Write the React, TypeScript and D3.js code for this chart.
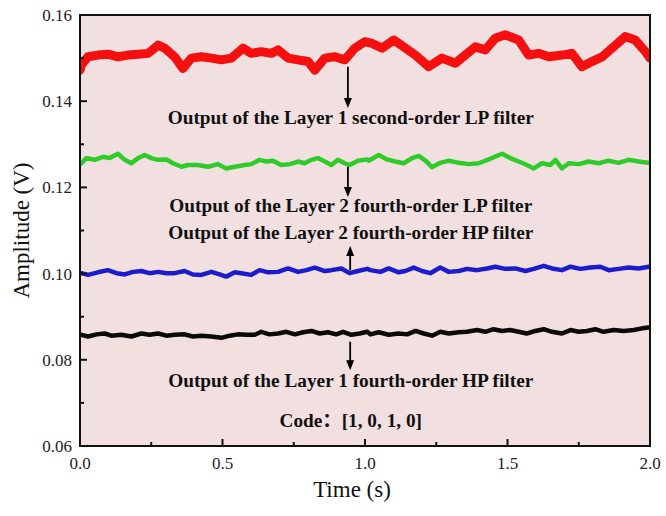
import React from "react";
import * as d3 from "d3";

const xTicks = [0, 0.5, 1.0, 1.5, 2.0];
const xMinorTicks = [0.25, 0.75, 1.25, 1.75];
const yTicks = [0.06, 0.08, 0.1, 0.12, 0.14, 0.16];
const yMinorTicks = [0.07, 0.09, 0.11, 0.13, 0.15];

const redPoints: [number, number][] = [
  [0, 0.1472], [0.005, 0.1484], [0.028, 0.1503], [0.063, 0.1507], [0.098, 0.1509], [0.133, 0.1503],
  [0.168, 0.1507], [0.204, 0.1509], [0.239, 0.1511], [0.274, 0.153], [0.297, 0.1523], [0.332, 0.1503],
  [0.361, 0.1476], [0.391, 0.15], [0.426, 0.1503], [0.461, 0.15], [0.496, 0.1496], [0.531, 0.15],
  [0.572, 0.1523], [0.601, 0.1511], [0.636, 0.1515], [0.671, 0.1511], [0.695, 0.1519], [0.73, 0.15],
  [0.765, 0.1496], [0.8, 0.1492], [0.824, 0.1472], [0.859, 0.15], [0.894, 0.1503], [0.929, 0.1496],
  [0.964, 0.1523], [0.999, 0.1538], [1.025, 0.1534], [1.06, 0.1523], [1.101, 0.1542], [1.142, 0.1523],
  [1.177, 0.1507], [1.223, 0.148], [1.27, 0.15], [1.317, 0.1488], [1.352, 0.1507], [1.387, 0.1526],
  [1.422, 0.1519], [1.457, 0.1546], [1.492, 0.1554], [1.539, 0.1542], [1.574, 0.1507], [1.609, 0.1511],
  [1.645, 0.1503], [1.691, 0.1507], [1.726, 0.1511], [1.761, 0.148], [1.796, 0.1492], [1.832, 0.1503],
  [1.867, 0.1523], [1.913, 0.155], [1.948, 0.1542], [1.984, 0.1515], [2.0, 0.15],
];

const greenPoints: [number, number][] = [
  [0, 0.1254], [0.005, 0.1256], [0.022, 0.1268], [0.051, 0.1264], [0.081, 0.1271], [0.104, 0.1268],
  [0.133, 0.1278], [0.157, 0.1264], [0.18, 0.1256], [0.204, 0.1268], [0.227, 0.1275], [0.25, 0.1268],
  [0.274, 0.1264], [0.303, 0.1265], [0.326, 0.1256], [0.356, 0.1248], [0.379, 0.1252], [0.414, 0.1252],
  [0.449, 0.1248], [0.484, 0.1254], [0.513, 0.1244], [0.543, 0.1248], [0.578, 0.1252], [0.601, 0.1254],
  [0.63, 0.1264], [0.654, 0.126], [0.677, 0.1262], [0.706, 0.1252], [0.736, 0.1254], [0.765, 0.126],
  [0.788, 0.1256], [0.812, 0.1264], [0.835, 0.1268], [0.859, 0.126], [0.882, 0.1252], [0.905, 0.1264],
  [0.929, 0.1256], [0.946, 0.1252], [0.975, 0.1262], [1.008, 0.1265], [1.013, 0.1262], [1.048, 0.1275],
  [1.077, 0.1265], [1.106, 0.126], [1.136, 0.1256], [1.165, 0.1268], [1.188, 0.1273], [1.212, 0.1262],
  [1.235, 0.1247], [1.264, 0.1257], [1.294, 0.1262], [1.329, 0.1257], [1.364, 0.1254], [1.399, 0.1256],
  [1.434, 0.1265], [1.481, 0.1278], [1.51, 0.1268], [1.539, 0.126], [1.568, 0.1252], [1.592, 0.1244],
  [1.621, 0.1256], [1.65, 0.1252], [1.668, 0.1264], [1.691, 0.1244], [1.715, 0.1256], [1.75, 0.1254],
  [1.785, 0.126], [1.82, 0.1256], [1.855, 0.1262], [1.89, 0.1257], [1.925, 0.1264], [1.96, 0.126],
  [1.993, 0.1257], [2.0, 0.1258],
];

const bluePoints: [number, number][] = [
  [0, 0.1], [0.005, 0.1001], [0.028, 0.0997], [0.063, 0.1003], [0.098, 0.1008], [0.128, 0.1001],
  [0.157, 0.0998], [0.186, 0.1004], [0.215, 0.1006], [0.244, 0.1001], [0.274, 0.1004], [0.303, 0.1001],
  [0.332, 0.1001], [0.367, 0.1006], [0.396, 0.0998], [0.426, 0.0997], [0.461, 0.1004], [0.49, 0.0998],
  [0.513, 0.0993], [0.543, 0.1003], [0.566, 0.1001], [0.601, 0.0997], [0.63, 0.1008], [0.66, 0.1003],
  [0.695, 0.1004], [0.73, 0.1012], [0.765, 0.1004], [0.794, 0.1008], [0.824, 0.1014], [0.859, 0.1006],
  [0.882, 0.1008], [0.917, 0.1012], [0.946, 0.1001], [0.975, 0.1006], [1.008, 0.1011], [1.019, 0.1008],
  [1.054, 0.1004], [1.083, 0.1012], [1.118, 0.1003], [1.142, 0.1006], [1.171, 0.1014], [1.2, 0.1006],
  [1.229, 0.1001], [1.264, 0.1014], [1.294, 0.1004], [1.329, 0.1006], [1.358, 0.1011], [1.393, 0.1008],
  [1.428, 0.1012], [1.457, 0.1016], [1.492, 0.1011], [1.527, 0.1012], [1.563, 0.1006], [1.592, 0.1011],
  [1.627, 0.1018], [1.656, 0.1012], [1.691, 0.1008], [1.721, 0.1016], [1.756, 0.1011], [1.791, 0.1014],
  [1.826, 0.1016], [1.855, 0.1008], [1.89, 0.1011], [1.925, 0.1014], [1.96, 0.1012], [1.996, 0.1016],
  [2.0, 0.1017],
];

const blackPoints: [number, number][] = [
  [0, 0.0857], [0.005, 0.0858], [0.028, 0.0854], [0.058, 0.0859], [0.087, 0.0861], [0.11, 0.0856],
  [0.145, 0.0858], [0.18, 0.0854], [0.215, 0.0861], [0.244, 0.0858], [0.274, 0.0861], [0.303, 0.0856],
  [0.332, 0.0858], [0.367, 0.0859], [0.396, 0.0854], [0.426, 0.0856], [0.461, 0.0854], [0.496, 0.0851],
  [0.525, 0.0856], [0.554, 0.0859], [0.584, 0.0858], [0.613, 0.0858], [0.636, 0.0865], [0.665, 0.0859],
  [0.695, 0.0861], [0.724, 0.0865], [0.754, 0.0859], [0.783, 0.0864], [0.812, 0.0867], [0.841, 0.0861],
  [0.87, 0.0864], [0.899, 0.0859], [0.923, 0.0865], [0.952, 0.0858], [0.981, 0.0861], [1.008, 0.0865],
  [1.019, 0.0859], [1.048, 0.0864], [1.083, 0.0858], [1.118, 0.0861], [1.148, 0.0859], [1.177, 0.0867],
  [1.206, 0.0861], [1.235, 0.0856], [1.264, 0.0865], [1.294, 0.0861], [1.329, 0.0864], [1.358, 0.0865],
  [1.393, 0.0869], [1.422, 0.0865], [1.451, 0.0871], [1.481, 0.0867], [1.51, 0.0869], [1.539, 0.0865],
  [1.568, 0.0861], [1.598, 0.0867], [1.627, 0.0871], [1.656, 0.0865], [1.691, 0.0861], [1.721, 0.0869],
  [1.75, 0.0865], [1.779, 0.0867], [1.808, 0.0871], [1.837, 0.0865], [1.873, 0.0869], [1.908, 0.0867],
  [1.943, 0.0869], [1.972, 0.0873], [1.996, 0.0875],
];

const annotationLabels = [
  "Output of the Layer 1 second-order LP filter",
  "Output of the Layer 2 fourth-order LP filter",
  "Output of the Layer 2 fourth-order HP filter",
  "Output of the Layer 1 fourth-order HP filter",
];
const annotationValues = [0.1347, 0.1144, 0.108, 0.0738];
const codeLabel = "Code：[1, 0, 1, 0]";
const codeValue = 0.0644;

// arrows: [time, from value, to value]
const arrows: [number, number, number][] = [
  [0.94, 0.148, 0.1384],
  [0.94, 0.1248, 0.1178],
  [0.948, 0.1008, 0.1064],
  [0.948, 0.0842, 0.0776],
];

const W = 666;
const H = 516;
const M = { left: 80, right: 650, top: 15, bottom: 446 };
const serif = "'Liberation Serif', 'Times New Roman', 'Noto Sans CJK SC', serif";

export default function App() {
  const x = d3.scaleLinear().domain([0, 2]).range([M.left, M.right]);
  const y = d3.scaleLinear().domain([0.06, 0.16]).range([M.bottom, M.top]);
  const line = d3
    .line<[number, number]>()
    .x((d) => x(d[0]))
    .y((d) => y(d[1]))
    .curve(d3.curveLinear);

  const series = [
    { pts: redPoints, color: "#f50f0f", w: 9 },
    { pts: greenPoints, color: "#2ecb2a", w: 4.5 },
    { pts: bluePoints, color: "#1c1ccc", w: 4.5 },
    { pts: blackPoints, color: "#0a0a0a", w: 4.5 },
  ];

  const headLen = 10;
  const headHalf = 4;

  return (
    <svg
      width={W}
      height={H}
      style={{ position: "absolute", left: 0, top: 0, background: "#fff" }}
    >
      <defs>
        <clipPath id="plotclip">
          <rect x={M.left} y={M.top} width={M.right - M.left} height={M.bottom - M.top} />
        </clipPath>
      </defs>
      <rect x={M.left} y={M.top} width={M.right - M.left} height={M.bottom - M.top} fill="#f2dfe0" />
      <g clipPath="url(#plotclip)">
        {series.map((s, i) => (
          <path
            key={i}
            d={line(s.pts) || ""}
            fill="none"
            stroke={s.color}
            strokeWidth={s.w}
            strokeLinejoin="round"
            strokeLinecap="round"
          />
        ))}
      </g>
      {arrows.map((a, i) => {
        const ax = x(a[0]);
        const y1 = y(a[1]);
        const y2 = y(a[2]);
        const dir = y2 > y1 ? 1 : -1;
        return (
          <g key={i}>
            <line x1={ax} x2={ax} y1={y1} y2={y2 - dir * headLen * 0.8} stroke="#000" strokeWidth={1.8} />
            <path
              d={`M${ax - headHalf},${y2 - dir * headLen} L${ax + headHalf},${y2 - dir * headLen} L${ax},${y2} Z`}
              fill="#000"
            />
          </g>
        );
      })}
      {annotationLabels.map((t, i) => (
        <text
          key={i}
          x={x(0.95)}
          y={y(annotationValues[i])}
          textAnchor="middle"
          fontFamily={serif}
          fontWeight="bold"
          fontSize={19.3}
          fill="#111"
        >
          {t}
        </text>
      ))}
      <text x={x(0.95)} y={y(codeValue)} textAnchor="middle" fontFamily={serif} fontWeight="bold" fontSize={19.3} fill="#111">
        {codeLabel}
      </text>
      <rect
        x={M.left}
        y={M.top}
        width={M.right - M.left}
        height={M.bottom - M.top}
        fill="none"
        stroke="#111"
        strokeWidth={2}
      />
      {xTicks.map((t) => (
        <g key={"xt" + t}>
          <line x1={x(t)} x2={x(t)} y1={M.bottom} y2={M.bottom - 7} stroke="#111" strokeWidth={2} />
          <text x={x(t)} y={M.bottom + 23} textAnchor="middle" fontFamily={serif} fontSize={17} fill="#222">
            {d3.format(".1f")(t)}
          </text>
        </g>
      ))}
      {xMinorTicks.map((t) => (
        <line key={"xm" + t} x1={x(t)} x2={x(t)} y1={M.bottom} y2={M.bottom - 4} stroke="#111" strokeWidth={2} />
      ))}
      {yTicks.map((t) => (
        <g key={"yt" + t}>
          <line x1={M.left} x2={M.left + 7} y1={y(t)} y2={y(t)} stroke="#111" strokeWidth={2} />
          <text x={M.left - 8} y={y(t) + 6} textAnchor="end" fontFamily={serif} fontSize={17} fill="#222">
            {d3.format(".2f")(t)}
          </text>
        </g>
      ))}
      {yMinorTicks.map((t) => (
        <line key={"ym" + t} x1={M.left} x2={M.left + 4} y1={y(t)} y2={y(t)} stroke="#111" strokeWidth={2} />
      ))}
      <text x={352} y={497} textAnchor="middle" fontFamily={serif} fontSize={23} fill="#111">
        Time (s)
      </text>
      <text
        transform={`translate(29, ${(M.top + M.bottom) / 2}) rotate(-90)`}
        textAnchor="middle"
        fontFamily={serif}
        fontSize={23}
        fill="#111"
      >
        Amplitude (V)
      </text>
    </svg>
  );
}
